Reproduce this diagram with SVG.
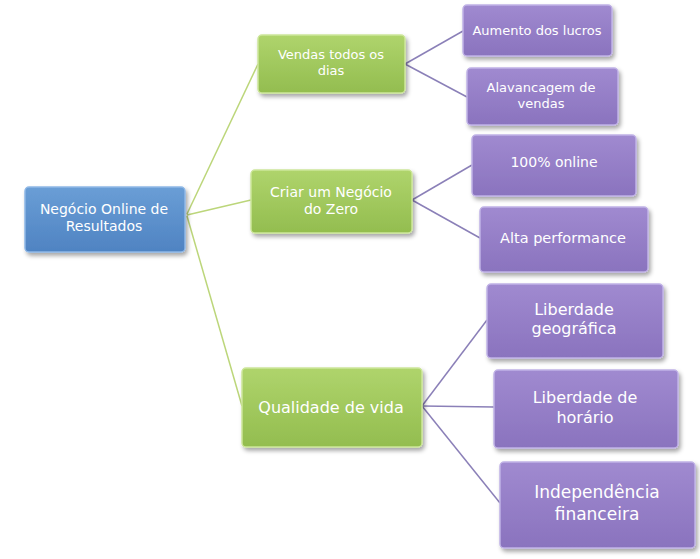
<svg xmlns="http://www.w3.org/2000/svg" width="700" height="559" viewBox="0 0 700 559">
<defs>
<linearGradient id="gb" x1="0" y1="0" x2="0" y2="1"><stop offset="0" stop-color="#6a9ed6"/><stop offset="1" stop-color="#4f83c2"/></linearGradient>
<linearGradient id="gg" x1="0" y1="0" x2="0" y2="1"><stop offset="0" stop-color="#afd46c"/><stop offset="1" stop-color="#93bd4f"/></linearGradient>
<linearGradient id="gp" x1="0" y1="0" x2="0" y2="1"><stop offset="0" stop-color="#a08ad0"/><stop offset="1" stop-color="#8a73be"/></linearGradient>
<filter id="sh" x="-10%" y="-10%" width="125%" height="135%"><feDropShadow dx="2" dy="3" stdDeviation="2" flood-color="#000" flood-opacity="0.35"/></filter>
</defs>
<style>
.b{fill:url(#gb);stroke:#8fb8e6;stroke-width:1.5;filter:url(#sh)}
.g{fill:url(#gg);stroke:#cde69a;stroke-width:1.5;filter:url(#sh)}
.p{fill:url(#gp);stroke:#c0b2e6;stroke-width:1.5;filter:url(#sh)}
.t{font-family:"DejaVu Sans","Liberation Sans",sans-serif;fill:#fff;text-anchor:middle}
.lg{stroke:#bcd67a;stroke-width:1.5;fill:none}
.lp{stroke:#8b80b8;stroke-width:1.5;fill:none}
</style>
<rect width="700" height="559" fill="#fff"/>
<g id="connectors">
<line class="lg" x1="187" y1="214" x2="258" y2="64"/>
<line class="lg" x1="187" y1="215" x2="251" y2="200"/>
<line class="lg" x1="187" y1="216" x2="242" y2="406"/>
<line class="lp" x1="405" y1="64" x2="463" y2="31"/>
<line class="lp" x1="405" y1="64" x2="467" y2="97"/>
<line class="lp" x1="412" y1="200" x2="472" y2="165"/>
<line class="lp" x1="412" y1="200" x2="480" y2="238"/>
<line class="lp" x1="422" y1="406" x2="487" y2="320"/>
<line class="lp" x1="422" y1="406" x2="494" y2="407"/>
<line class="lp" x1="422" y1="406" x2="500" y2="503"/>
</g>
<g id="root"><rect class="b" x="25" y="187" width="160" height="65" rx="4"/>
<text class="t" x="104" y="214" font-size="14">Negócio Online de</text><text class="t" x="104" y="231" font-size="14">Resultados</text></g>
<g id="vendas"><rect class="g" x="258" y="35" width="147" height="58" rx="4"/>
<text class="t" x="331" y="59" font-size="13">Vendas todos os</text><text class="t" x="331" y="75" font-size="13">dias</text></g>
<g id="criar"><rect class="g" x="251" y="170" width="161" height="63" rx="4"/>
<text class="t" x="331" y="197" font-size="14">Criar um Negócio</text><text class="t" x="331" y="214" font-size="14">do Zero</text></g>
<g id="qualidade"><rect class="g" x="242" y="368" width="180" height="79" rx="4"/>
<text class="t" x="331" y="413" font-size="16">Qualidade de vida</text></g>
<g id="aumento"><rect class="p" x="463" y="5" width="149" height="51" rx="4"/>
<text class="t" x="537" y="35" font-size="13">Aumento dos lucros</text></g>
<g id="alavancagem"><rect class="p" x="467" y="68" width="151" height="57" rx="4"/>
<text class="t" x="541" y="92" font-size="13">Alavancagem de</text><text class="t" x="541" y="108" font-size="13">vendas</text></g>
<g id="online"><rect class="p" x="472" y="135" width="164" height="61" rx="4"/>
<text class="t" x="554" y="167" font-size="14">100% online</text></g>
<g id="alta"><rect class="p" x="480" y="207" width="168" height="65" rx="4"/>
<text class="t" x="563" y="243" font-size="14.5">Alta performance</text></g>
<g id="geo"><rect class="p" x="487" y="284" width="176" height="74" rx="4"/>
<text class="t" x="574" y="315" font-size="16">Liberdade</text><text class="t" x="574" y="334" font-size="16">geográfica</text></g>
<g id="horario"><rect class="p" x="494" y="370" width="184" height="78" rx="4"/>
<text class="t" x="585" y="403" font-size="16">Liberdade de</text><text class="t" x="585" y="423" font-size="16">horário</text></g>
<g id="indep"><rect class="p" x="500" y="462" width="195" height="86" rx="4"/>
<text class="t" x="597" y="498" font-size="17">Independência</text><text class="t" x="597" y="520" font-size="17">financeira</text></g>
</svg>
